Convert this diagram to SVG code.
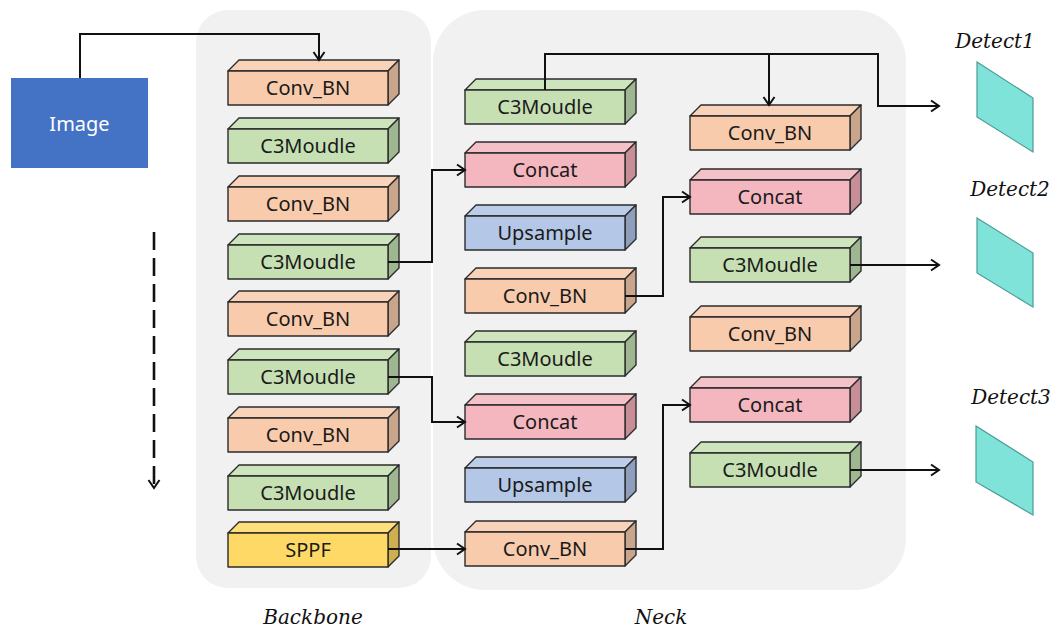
<svg xmlns="http://www.w3.org/2000/svg" width="1051" height="630" viewBox="0 0 1051 630">
<defs>
<style>
.panel{fill:#f1f1f1}
.f{stroke:#2b2b2b;stroke-width:1.4;stroke-linejoin:round}
.fr{fill:var(--fr)}.tp{fill:var(--tp)}.rt{fill:var(--rt)}
.conv{--fr:#f8cbad;--tp:#f9d3b9;--rt:#c9a58c}
.c3{--fr:#c6e0b4;--tp:#cde4bd;--rt:#9fb790}
.cat{--fr:#f4b7c0;--tp:#f5c1c8;--rt:#c88e97}
.up{--fr:#b4c7e7;--tp:#bccdea;--rt:#8e9fbd}
.sppf{--fr:#ffd966;--tp:#ffdf7c;--rt:#cfae4e}
.lbl{font-family:"Noto Sans","Open Sans",sans-serif;font-size:20px;fill:#1a1a1a;text-anchor:middle}
.it{font-family:"DejaVu Serif","Liberation Serif",serif;font-style:italic;font-size:20px;fill:#111;text-anchor:middle}
.wire{fill:none;stroke:#111;stroke-width:2}
.det{fill:#7fe3da;stroke:#4c9b95;stroke-width:1.2}
</style>
<marker id="ah" markerUnits="userSpaceOnUse" markerWidth="14" markerHeight="14" refX="10" refY="7" orient="auto">
<path d="M2,1.5 L10,7 L2,12.5" fill="none" stroke="#111" stroke-width="2"/>
</marker>
<g id="blk">
<polygon class="f tp" points="0,0 11,-11 171,-11 160,0"/>
<polygon class="f rt" points="160,0 171,-11 171,23 160,34"/>
<rect class="f fr" x="0" y="0" width="160" height="34"/>
</g>
</defs>
<rect width="1051" height="630" fill="#ffffff"/>
<rect class="panel" x="196" y="10" width="235" height="578" rx="32"/>
<rect class="panel" x="433" y="10" width="473" height="580" rx="52"/>

<g id="image"><rect x="11" y="78" width="137" height="90" fill="#4472c4"/><text x="79.5" y="131" font-family="Noto Sans,sans-serif" font-size="20" fill="#fff" text-anchor="middle">Image</text></g>

<g id="b1" class="conv" transform="translate(228,71)"><use href="#blk"/><text class="lbl" x="80" y="24">Conv_BN</text></g>
<g id="b2" class="c3" transform="translate(228,129)"><use href="#blk"/><text class="lbl" x="80" y="24">C3Moudle</text></g>
<g id="b3" class="conv" transform="translate(228,187)"><use href="#blk"/><text class="lbl" x="80" y="24">Conv_BN</text></g>
<g id="b4" class="c3" transform="translate(228,245)"><use href="#blk"/><text class="lbl" x="80" y="24">C3Moudle</text></g>
<g id="b5" class="conv" transform="translate(228,302)"><use href="#blk"/><text class="lbl" x="80" y="24">Conv_BN</text></g>
<g id="b6" class="c3" transform="translate(228,360)"><use href="#blk"/><text class="lbl" x="80" y="24">C3Moudle</text></g>
<g id="b7" class="conv" transform="translate(228,418)"><use href="#blk"/><text class="lbl" x="80" y="24">Conv_BN</text></g>
<g id="b8" class="c3" transform="translate(228,476)"><use href="#blk"/><text class="lbl" x="80" y="24">C3Moudle</text></g>
<g id="b9" class="sppf" transform="translate(228,533)"><use href="#blk"/><text class="lbl" x="80" y="24">SPPF</text></g>

<g id="n1" class="c3" transform="translate(465,90)"><use href="#blk"/><text class="lbl" x="80" y="24">C3Moudle</text></g>
<g id="n2" class="cat" transform="translate(465,153)"><use href="#blk"/><text class="lbl" x="80" y="24">Concat</text></g>
<g id="n3" class="up" transform="translate(465,216)"><use href="#blk"/><text class="lbl" x="80" y="24">Upsample</text></g>
<g id="n4" class="conv" transform="translate(465,279)"><use href="#blk"/><text class="lbl" x="80" y="24">Conv_BN</text></g>
<g id="n5" class="c3" transform="translate(465,342)"><use href="#blk"/><text class="lbl" x="80" y="24">C3Moudle</text></g>
<g id="n6" class="cat" transform="translate(465,405)"><use href="#blk"/><text class="lbl" x="80" y="24">Concat</text></g>
<g id="n7" class="up" transform="translate(465,468)"><use href="#blk"/><text class="lbl" x="80" y="24">Upsample</text></g>
<g id="n8" class="conv" transform="translate(465,532)"><use href="#blk"/><text class="lbl" x="80" y="24">Conv_BN</text></g>

<g id="m1" class="conv" transform="translate(690,116)"><use href="#blk"/><text class="lbl" x="80" y="24">Conv_BN</text></g>
<g id="m2" class="cat" transform="translate(690,180)"><use href="#blk"/><text class="lbl" x="80" y="24">Concat</text></g>
<g id="m3" class="c3" transform="translate(690,248)"><use href="#blk"/><text class="lbl" x="80" y="24">C3Moudle</text></g>
<g id="m4" class="conv" transform="translate(690,317)"><use href="#blk"/><text class="lbl" x="80" y="24">Conv_BN</text></g>
<g id="m5" class="cat" transform="translate(690,388)"><use href="#blk"/><text class="lbl" x="80" y="24">Concat</text></g>
<g id="m6" class="c3" transform="translate(690,453)"><use href="#blk"/><text class="lbl" x="80" y="24">C3Moudle</text></g>

<g id="detect1"><polygon class="det" points="977,62 1033,98 1033,152 977,117"/><text class="it" x="995" y="48">Detect1</text></g>
<g id="detect2"><polygon class="det" points="977,218 1033,253 1033,307 977,273"/><text class="it" x="1010" y="196">Detect2</text></g>
<g id="detect3"><polygon class="det" points="976,426 1033,462 1033,515 976,482"/><text class="it" x="1011" y="404">Detect3</text></g>

<g id="connectors">
<path class="wire" d="M80,78 V34 H319 V60" marker-end="url(#ah)"/>
<path class="wire" d="M388,262 H432 V170 H465" marker-end="url(#ah)"/>
<path class="wire" d="M388,377 H432 V422 H465" marker-end="url(#ah)"/>
<path class="wire" d="M388,549 H465" marker-end="url(#ah)"/>
<path class="wire" d="M545,90 V54 H878 V106 H939" marker-end="url(#ah)"/>
<path class="wire" d="M769,54 V105" marker-end="url(#ah)"/>
<path class="wire" d="M625,296 H663 V197 H690" marker-end="url(#ah)"/>
<path class="wire" d="M625,549 H663 V405 H690" marker-end="url(#ah)"/>
<path class="wire" d="M850,265 H939" marker-end="url(#ah)"/>
<path class="wire" d="M850,470 H939" marker-end="url(#ah)"/>
<path d="M154,232 V488" fill="none" stroke="#111" stroke-width="2.6" stroke-dasharray="18 8" marker-end="url(#ah)"/>
</g>

<text class="it" x="313" y="624">Backbone</text>
<text class="it" x="661" y="624">Neck</text>
</svg>
